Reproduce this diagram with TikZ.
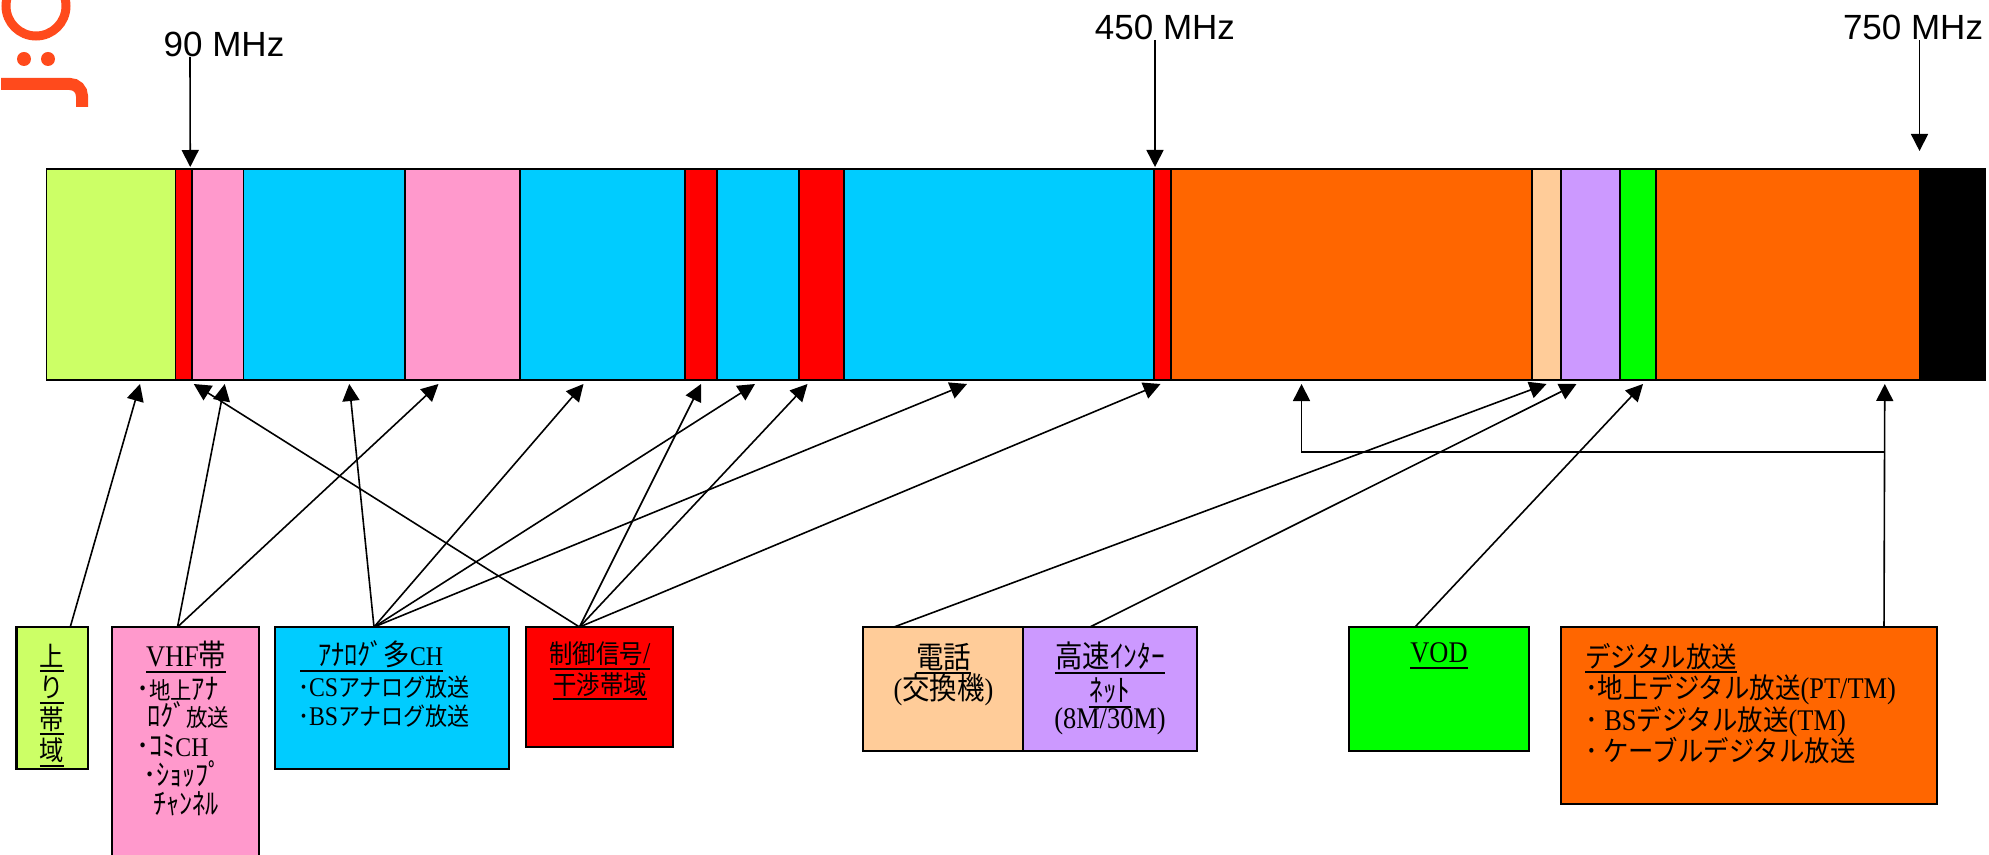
\documentclass[tikz,border=0pt]{standalone}
\usepackage{fontspec}
\usetikzlibrary{arrows.meta}
\setmainfont{Liberation Serif}[FakeStretch=.88,Scale=1.2]
\newfontfamily\lats{Liberation Serif}[FakeStretch=.88,Scale=1.08]
\newfontfamily\jp{Noto Sans CJK JP}[FakeStretch=.9,Scale=1.04]
\newfontfamily\jpa{Noto Sans CJK JP}[FakeStretch=.9,Scale=.98]
\newfontfamily\jpk{Noto Sans CJK JP}[FakeStretch=.9,Scale=.95]
\newfontfamily\jph{Noto Sans CJK JP}[FakeStretch=.9,Scale=1.17]
\newfontfamily\jpb{Noto Sans CJK JP}[FakeStretch=.9,Scale=1.13]
\newfontfamily\jpc{Noto Sans CJK JP}[FakeStretch=.9,Scale=1.22]
\newfontfamily\sansf{Liberation Sans}
\definecolor{cgreen}{HTML}{CCFF66}
\definecolor{cred}{HTML}{FF0000}
\definecolor{cpink}{HTML}{FF99CC}
\definecolor{cblue}{HTML}{00CCFF}
\definecolor{corange}{HTML}{FF6600}
\definecolor{cpeach}{HTML}{FFCC99}
\definecolor{cpurple}{HTML}{CC99FF}
\definecolor{clime}{HTML}{00FF00}
\definecolor{clogo}{HTML}{FF4A1C}
\newcommand\ul[1]{\setbox0\hbox{#1}\rlap{\rule[-3pt]{\wd0}{1pt}}\box0 }
\tikzset{
  seg/.style={draw=black,line width=.7pt,rectangle,inner sep=0pt,outer sep=0pt},
  labelbox/.style={draw=black,line width=1.1pt,rectangle,inner sep=0pt,outer sep=0pt},
  arr/.style={draw=black,line width=.8pt,-{Triangle[length=8.5pt,width=8.5pt]}},
  txt/.style={inner sep=0pt,outer sep=0pt,font=\fontsize{12.5}{15.2}\selectfont},
  freq/.style={inner sep=0pt,font=\sansf\fontsize{17.5}{20}\selectfont}
}
% segment: name, left, right, colour
\newcommand\Seg[4]{\node[seg,fill=#4,minimum width=#3*.5pt-#2*.5pt,minimum height=105.5pt] (#1) at ({(#2+#3)/2},274.5) {};}
% box: name, left, right, bottom, colour
\newcommand\Bx[5]{\node[labelbox,fill=#5,minimum width=#3*.5pt-#2*.5pt,minimum height=#4*.5pt-313.5pt] (#1) at ({(#2+#3)/2},{(627+#4)/2}) {};}
\begin{document}
\begin{tikzpicture}[x=.5pt,y=-.5pt]
\useasboundingbox (0,0) rectangle (1989,855);
\begin{scope}
\clip (0,0) rectangle (1989,855);
% logo fragment
\draw[clogo,line width=4.5pt] (36,6) circle (30);
\fill[clogo] (24,59) circle (7) (48,59) circle (7);
\draw[clogo,line width=6pt] (1,84) -- (70,84) arc[start angle=-90,end angle=0,radius=12] -- (82,107);
% bar
\Seg{s1}{46.5}{175.5}{cgreen}
\Seg{s2}{175.5}{192}{cred}
\Seg{s3}{192}{243.5}{cpink}
\Seg{s4}{243.5}{405}{cblue}
\Seg{s5}{405}{520}{cpink}
\Seg{s6}{520}{685}{cblue}
\Seg{s7}{685}{717}{cred}
\Seg{s8}{717}{799}{cblue}
\Seg{s9}{799}{844}{cred}
\Seg{s10}{844}{1154}{cblue}
\Seg{s11}{1154}{1171}{cred}
\Seg{s12}{1171}{1532}{corange}
\Seg{s13}{1532}{1561}{cpeach}
\Seg{s14}{1561}{1620}{cpurple}
\Seg{s15}{1620}{1656}{clime}
\Seg{s16}{1656}{1919.5}{corange}
\Seg{s17}{1919.5}{1985}{black}
% frequency labels
\node[freq] (f90) at (224,44) {90 MHz};
\node[freq] (f450) at (1165,27) {450 MHz};
\node[freq] (f750) at (1913,27) {750 MHz};
% boxes
\Bx{bup}{16.5}{88}{769}{cgreen}
\Bx{bvhf}{112}{259}{900}{cpink}
\Bx{bana}{275}{509}{769}{cblue}
\Bx{bred}{526}{673}{747}{cred}
\Bx{btel}{863}{1023}{751}{cpeach}
\Bx{bnet}{1023}{1197}{751}{cpurple}
\Bx{bvod}{1349}{1529}{751}{clime}
\Bx{bdig}{1561}{1937}{804}{corange}
% texts
\node[txt,anchor=north,align=center,font=\fontsize{13}{15.7}\selectfont] (tup) at (52,644) {\ul{\jp 上}\\\ul{\jp り}\\\ul{\jp 帯}\\\ul{\jp 域}};
\node[txt,anchor=north west,align=left] (tvhf) at (136,641) {\hspace*{5pt}\ul{VHF{\jpc 帯}}\\[1pt]{\jph ･}{\jpk 地上}{\jph ｱﾅ}\\[-1.5pt]\hspace*{5.5pt}{\jph ﾛｸﾞ}{\jpk 放送}\\{\jph ･ｺﾐ}{\lats CH}\\[-.8pt]\hspace*{3.5pt}{\jph ･ｼｮｯﾌﾟ}\\[-.8pt]\hspace*{8.5pt}{\jph ﾁｬﾝﾈﾙ}};
\node[txt,anchor=north west,align=left] (tana) at (298,641) {\hspace*{1pt}\ul{\hspace*{9pt}{\jph ｱﾅﾛｸﾞ多}{\lats CH}}\\[0pt]{\jpa ･}{\lats CS}{\jpa アナログ放送}\\[-.5pt]{\jpa ･}{\lats BS}{\jpa アナログ放送}};
\node[txt,anchor=north,align=center] (tred) at (600,642) {\ul{{\jp 制御信号}/}\\\ul{\jp 干渉帯域}};
\node[txt,anchor=north,align=center] (ttel) at (943.5,643) {\ul{\jpc 電話}\\[-1pt]({\jpc 交換機})};
\node[txt,anchor=north,align=center] (tnet) at (1110,642) {\ul{\jpc 高速ｲﾝﾀｰ}\\[1.8pt]\ul{\jpc ﾈｯﾄ}\\[-2pt](8M/30M)};
\node[txt,anchor=north] (tvod) at (1439,643) {\ul{VOD}};
\node[txt,anchor=north west,align=left,font=\fontsize{12.5}{15.8}\selectfont] (tdig) at (1585,643) {\ul{\jpb デジタル放送}\\{\jpb ･地上デジタル放送}(PT/TM)\\{\jpb ･} BS{\jpb デジタル放送}(TM)\\{\jpb ･ ケーブルデジタル放送}};
% top arrows
\draw[arr] ([xshift=-17pt]f90.south) -- ([xshift=3.25pt,yshift=1pt]s2.north);
\draw[arr] ([xshift=-5pt]f450.south) -- ([xshift=-3.75pt,yshift=1pt]s11.north);
\draw[arr] ([xshift=3.25pt]f750.south) -- ([yshift=9pt]s17.north west);
% connectors
\draw[arr] ([xshift=9pt]bup.north) -- ([xshift=14.5pt,yshift=-2pt]s1.south);
\draw[arr] ([xshift=-4pt]bvhf.north) -- ([xshift=3.5pt,yshift=-2pt]s3.south);
\draw[arr] ([xshift=-4pt]bvhf.north) -- ([xshift=-12pt,yshift=-2pt]s5.south);
\draw[arr] ([xshift=-9pt]bana.north) -- ([xshift=12.5pt,yshift=-2pt]s4.south);
\draw[arr] ([xshift=-9pt]bana.north) -- ([xshift=-9.5pt,yshift=-2pt]s6.south);
\draw[arr] ([xshift=-9pt]bana.north) -- ([xshift=-1.5pt,yshift=-2pt]s8.south);
\draw[arr] ([xshift=-9pt]bana.north) -- ([xshift=-16pt,yshift=-2pt]s10.south);
\draw[arr] ([xshift=-10pt]bred.north) -- ([xshift=5pt,yshift=-2pt]s2.south);
\draw[arr] ([xshift=-10pt]bred.north) -- ([yshift=-2pt]s7.south);
\draw[arr] ([xshift=-10pt]bred.north) -- ([xshift=-7pt,yshift=-2pt]s9.south);
\draw[arr] ([xshift=-10pt]bred.north) -- ([xshift=-1pt,yshift=-2pt]s11.south);
\draw[arr] ([xshift=-24.5pt]btel.north) -- ([yshift=-2pt]s13.south);
\draw[arr] ([xshift=-10pt]bnet.north) -- ([xshift=-7pt,yshift=-2pt]s14.south);
\draw[arr] ([xshift=-12pt]bvod.north) -- ([xshift=2.5pt,yshift=-2pt]s15.south);
\draw[arr] ([xshift=67.5pt]bdig.north) -- ([xshift=48.5pt,yshift=-2pt]s16.south);
\draw[arr] ([xshift=48.5pt,yshift=-36pt]s16.south) -| ([xshift=-25pt,yshift=-2pt]s12.south);
\end{scope}
\end{tikzpicture}
\end{document}
